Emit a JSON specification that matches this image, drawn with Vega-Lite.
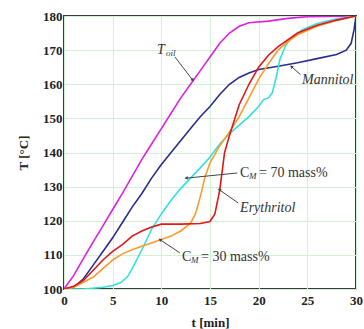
{
  "$schema": "https://vega.github.io/schema/vega-lite/v6.json",
  "width": 292,
  "height": 273,
  "autosize": {"type": "none"},
  "padding": {"left": 64, "top": 16, "right": 8, "bottom": 40},
  "background": "white",
  "config": {
    "view": {"stroke": "#3a3a3a", "strokeWidth": 2},
    "font": "Liberation Serif"
  },
  "datasets": {
    "curves": [
      {"s": "Toil", "t": 0, "T": 100}, {"s": "Toil", "t": 1, "T": 104}, {"s": "Toil", "t": 2, "T": 109}, {"s": "Toil", "t": 3, "T": 113.8}, {"s": "Toil", "t": 4, "T": 118.5}, {"s": "Toil", "t": 5, "T": 123.3}, {"s": "Toil", "t": 6, "T": 128}, {"s": "Toil", "t": 7, "T": 133}, {"s": "Toil", "t": 8, "T": 138}, {"s": "Toil", "t": 9, "T": 142.5}, {"s": "Toil", "t": 10, "T": 147}, {"s": "Toil", "t": 11, "T": 151.5}, {"s": "Toil", "t": 12, "T": 156}, {"s": "Toil", "t": 13, "T": 160}, {"s": "Toil", "t": 14, "T": 164}, {"s": "Toil", "t": 15, "T": 168}, {"s": "Toil", "t": 16, "T": 172}, {"s": "Toil", "t": 17, "T": 175}, {"s": "Toil", "t": 18, "T": 177}, {"s": "Toil", "t": 19, "T": 178}, {"s": "Toil", "t": 21, "T": 178.5}, {"s": "Toil", "t": 23, "T": 179.3}, {"s": "Toil", "t": 25, "T": 179.8}, {"s": "Toil", "t": 30, "T": 180},
      {"s": "Mannitol", "t": 0, "T": 100}, {"s": "Mannitol", "t": 1, "T": 100.5}, {"s": "Mannitol", "t": 2, "T": 103}, {"s": "Mannitol", "t": 3, "T": 107}, {"s": "Mannitol", "t": 4, "T": 111}, {"s": "Mannitol", "t": 5, "T": 115}, {"s": "Mannitol", "t": 6, "T": 119.5}, {"s": "Mannitol", "t": 7, "T": 124}, {"s": "Mannitol", "t": 8, "T": 128}, {"s": "Mannitol", "t": 9, "T": 132.5}, {"s": "Mannitol", "t": 10, "T": 136.5}, {"s": "Mannitol", "t": 11, "T": 140}, {"s": "Mannitol", "t": 12, "T": 143.5}, {"s": "Mannitol", "t": 13, "T": 147}, {"s": "Mannitol", "t": 14, "T": 150.5}, {"s": "Mannitol", "t": 15, "T": 153.5}, {"s": "Mannitol", "t": 16, "T": 157}, {"s": "Mannitol", "t": 17, "T": 160}, {"s": "Mannitol", "t": 18, "T": 162}, {"s": "Mannitol", "t": 19, "T": 163.3}, {"s": "Mannitol", "t": 20, "T": 164.3}, {"s": "Mannitol", "t": 22, "T": 165.3}, {"s": "Mannitol", "t": 24, "T": 166.3}, {"s": "Mannitol", "t": 26, "T": 167.5}, {"s": "Mannitol", "t": 28, "T": 168.7}, {"s": "Mannitol", "t": 29, "T": 170}, {"s": "Mannitol", "t": 29.5, "T": 172}, {"s": "Mannitol", "t": 29.8, "T": 176}, {"s": "Mannitol", "t": 30, "T": 180},
      {"s": "C70", "t": 0, "T": 100}, {"s": "C70", "t": 2, "T": 100}, {"s": "C70", "t": 4, "T": 100.5}, {"s": "C70", "t": 5, "T": 101}, {"s": "C70", "t": 5.8, "T": 101.8}, {"s": "C70", "t": 6.5, "T": 103.5}, {"s": "C70", "t": 7, "T": 106}, {"s": "C70", "t": 8, "T": 111.5}, {"s": "C70", "t": 9, "T": 117.5}, {"s": "C70", "t": 10, "T": 122}, {"s": "C70", "t": 11, "T": 126}, {"s": "C70", "t": 12, "T": 129.5}, {"s": "C70", "t": 13, "T": 132.5}, {"s": "C70", "t": 14, "T": 135.5}, {"s": "C70", "t": 15, "T": 138.7}, {"s": "C70", "t": 16, "T": 142.5}, {"s": "C70", "t": 17, "T": 145.5}, {"s": "C70", "t": 18, "T": 148}, {"s": "C70", "t": 19, "T": 150.5}, {"s": "C70", "t": 20, "T": 153.5}, {"s": "C70", "t": 20.5, "T": 155.5}, {"s": "C70", "t": 21, "T": 156}, {"s": "C70", "t": 21.4, "T": 157.5}, {"s": "C70", "t": 21.8, "T": 162}, {"s": "C70", "t": 22.2, "T": 167.5}, {"s": "C70", "t": 22.8, "T": 171.5}, {"s": "C70", "t": 23.5, "T": 174}, {"s": "C70", "t": 24.5, "T": 176}, {"s": "C70", "t": 26, "T": 177.8}, {"s": "C70", "t": 28, "T": 179.2}, {"s": "C70", "t": 30, "T": 180},
      {"s": "C30", "t": 0, "T": 100}, {"s": "C30", "t": 1, "T": 100.5}, {"s": "C30", "t": 2, "T": 102}, {"s": "C30", "t": 3, "T": 103.5}, {"s": "C30", "t": 4, "T": 106}, {"s": "C30", "t": 5, "T": 108.5}, {"s": "C30", "t": 6, "T": 110.3}, {"s": "C30", "t": 7, "T": 111.5}, {"s": "C30", "t": 8, "T": 112.5}, {"s": "C30", "t": 9, "T": 113.5}, {"s": "C30", "t": 10, "T": 114.5}, {"s": "C30", "t": 11, "T": 115.5}, {"s": "C30", "t": 12, "T": 117}, {"s": "C30", "t": 13, "T": 119.3}, {"s": "C30", "t": 13.5, "T": 122}, {"s": "C30", "t": 14, "T": 127}, {"s": "C30", "t": 14.5, "T": 133}, {"s": "C30", "t": 15, "T": 137}, {"s": "C30", "t": 16, "T": 142}, {"s": "C30", "t": 17, "T": 146}, {"s": "C30", "t": 18, "T": 150.5}, {"s": "C30", "t": 19, "T": 156}, {"s": "C30", "t": 20, "T": 161.5}, {"s": "C30", "t": 21, "T": 166}, {"s": "C30", "t": 22, "T": 170}, {"s": "C30", "t": 23, "T": 172.5}, {"s": "C30", "t": 24, "T": 174.5}, {"s": "C30", "t": 26, "T": 177}, {"s": "C30", "t": 28, "T": 178.7}, {"s": "C30", "t": 30, "T": 180},
      {"s": "Erythritol", "t": 0, "T": 100}, {"s": "Erythritol", "t": 1, "T": 100.8}, {"s": "Erythritol", "t": 2, "T": 102.5}, {"s": "Erythritol", "t": 3, "T": 105.5}, {"s": "Erythritol", "t": 4, "T": 108.5}, {"s": "Erythritol", "t": 5, "T": 111}, {"s": "Erythritol", "t": 6, "T": 113}, {"s": "Erythritol", "t": 7, "T": 115.5}, {"s": "Erythritol", "t": 8, "T": 117}, {"s": "Erythritol", "t": 9, "T": 118.2}, {"s": "Erythritol", "t": 10, "T": 119}, {"s": "Erythritol", "t": 12, "T": 119}, {"s": "Erythritol", "t": 14, "T": 119.2}, {"s": "Erythritol", "t": 15, "T": 119.8}, {"s": "Erythritol", "t": 15.5, "T": 122}, {"s": "Erythritol", "t": 16, "T": 129}, {"s": "Erythritol", "t": 16.5, "T": 140}, {"s": "Erythritol", "t": 17, "T": 145}, {"s": "Erythritol", "t": 18, "T": 154}, {"s": "Erythritol", "t": 19, "T": 160}, {"s": "Erythritol", "t": 20, "T": 165}, {"s": "Erythritol", "t": 21, "T": 168.5}, {"s": "Erythritol", "t": 22, "T": 171}, {"s": "Erythritol", "t": 24, "T": 175}, {"s": "Erythritol", "t": 26, "T": 177.3}, {"s": "Erythritol", "t": 28, "T": 178.8}, {"s": "Erythritol", "t": 30, "T": 180}
    ],
    "arrows": [
      {"id": "toil", "t": 11.4, "T": 168.0, "t2": 13.2, "T2": 161.3},
      {"id": "mannitol", "t": 24.3, "T": 162.8, "t2": 23.4, "T2": 165.1},
      {"id": "c70", "t": 17.8, "T": 134.0, "t2": 12.6, "T2": 132.5},
      {"id": "ery", "t": 17.9, "T": 125.2, "t2": 16.0, "T2": 129.0},
      {"id": "c30", "t": 11.9, "T": 110.6, "t2": 9.9, "T2": 114.4}
    ],
    "tips": [
      {"id": "toil", "t": 13.2, "T": 161.3},
      {"id": "mannitol", "t": 23.4, "T": 165.1},
      {"id": "c70", "t": 12.6, "T": 132.5},
      {"id": "ery", "t": 16.0, "T": 129.0},
      {"id": "c30", "t": 9.9, "T": 114.4}
    ],
    "italicLabels": [
      {"label": "T", "t": 9.56, "T": 170.1},
      {"label": "Mannitol", "t": 24.46, "T": 161.3},
      {"label": "Erythritol", "t": 18.09, "T": 123.75}
    ],
    "subOil": [
      {"label": "oil", "t": 9.56, "T": 170.1}
    ],
    "cLabels": [
      {"c": "C", "sub": "M", "rest": "= 70 mass%", "t": 18.09, "T": 134.0},
      {"c": "C", "sub": "M", "rest": "= 30 mass%", "t": 12.13, "T": 109.4}
    ]
  },
  "encoding": {
    "x": {
      "field": "t", "type": "quantitative",
      "scale": {"domain": [0, 30], "nice": false, "zero": false},
      "axis": {
        "values": [0, 5, 10, 15, 20, 25, 30],
        "grid": true, "gridColor": "#d2f0d2", "gridWidth": 1,
        "ticks": false, "domain": false, "labelOverlap": false,
        "labelFont": "Liberation Serif", "labelFontWeight": "bold", "labelFontSize": 13, "labelColor": "#222",
        "labelPadding": 5, "labelFlush": false,
        "title": "t [min]", "titleFont": "Liberation Serif", "titleFontWeight": "bold", "titleFontSize": 13, "titleColor": "#222",
        "titleY": 33, "titleX": 146, "titleBaseline": "middle", "titleAlign": "center"
      }
    },
    "y": {
      "field": "T", "type": "quantitative",
      "scale": {"domain": [100, 180], "nice": false, "zero": false},
      "axis": {
        "values": [100, 110, 120, 130, 140, 150, 160, 170, 180],
        "grid": true, "gridColor": "#d2f0d2", "gridWidth": 1,
        "ticks": false, "domain": false, "labelOverlap": false,
        "labelFont": "Liberation Serif", "labelFontWeight": "bold", "labelFontSize": 13, "labelColor": "#222",
        "labelPadding": 2, "labelFlush": false,
        "title": "T [°C]", "titleFont": "Liberation Serif", "titleFontWeight": "bold", "titleFontSize": 13, "titleColor": "#222",
        "titleAngle": -90, "titleX": -41, "titleY": 136.5, "titleBaseline": "middle", "titleAlign": "center"
      }
    }
  },
  "layer": [
    {
      "data": {"name": "curves"},
      "mark": {"type": "line", "strokeWidth": 1.6, "clip": true},
      "encoding": {
        "color": {
          "field": "s", "type": "nominal",
          "scale": {"domain": ["Toil", "Mannitol", "C70", "C30", "Erythritol"], "range": ["#e020e0", "#2c2c8c", "#33e0e0", "#ff9a2a", "#e01818"]},
          "legend": null
        },
        "order": {"field": "t", "type": "quantitative"}
      }
    },
    {
      "data": {"name": "arrows"},
      "mark": {"type": "rule", "color": "#444444", "strokeWidth": 1},
      "encoding": {
        "x2": {"field": "t2"},
        "y2": {"field": "T2"}
      }
    },
    {
      "data": {"name": "tips"},
      "transform": [{"filter": "datum.id === 'toil'"}],
      "mark": {"type": "point", "shape": "triangle", "filled": true, "size": 14, "angle": 143, "color": "#444444", "opacity": 1},
      "encoding": {}
    },
    {
      "data": {"name": "tips"},
      "transform": [{"filter": "datum.id === 'mannitol'"}],
      "mark": {"type": "point", "shape": "triangle", "filled": true, "size": 14, "angle": 312, "color": "#444444", "opacity": 1},
      "encoding": {}
    },
    {
      "data": {"name": "tips"},
      "transform": [{"filter": "datum.id === 'c70'"}],
      "mark": {"type": "point", "shape": "triangle", "filled": true, "size": 14, "angle": 264, "color": "#444444", "opacity": 1},
      "encoding": {}
    },
    {
      "data": {"name": "tips"},
      "transform": [{"filter": "datum.id === 'ery'"}],
      "mark": {"type": "point", "shape": "triangle", "filled": true, "size": 14, "angle": 305, "color": "#444444", "opacity": 1},
      "encoding": {}
    },
    {
      "data": {"name": "tips"},
      "transform": [{"filter": "datum.id === 'c30'"}],
      "mark": {"type": "point", "shape": "triangle", "filled": true, "size": 14, "angle": 304, "color": "#444444", "opacity": 1},
      "encoding": {}
    },
    {
      "data": {"name": "italicLabels"},
      "mark": {"type": "text", "font": "Liberation Serif", "fontStyle": "italic", "fontSize": 14, "align": "left", "baseline": "middle", "color": "#333333"},
      "encoding": {"text": {"field": "label"}}
    },
    {
      "data": {"name": "subOil"},
      "mark": {"type": "text", "font": "Liberation Serif", "fontStyle": "italic", "fontSize": 9, "align": "left", "baseline": "middle", "dx": 9, "dy": 3, "color": "#333333"},
      "encoding": {"text": {"field": "label"}}
    },
    {
      "data": {"name": "cLabels"},
      "mark": {"type": "text", "font": "Liberation Serif", "fontSize": 14, "align": "left", "baseline": "middle", "color": "#333333"},
      "encoding": {"text": {"field": "c"}}
    },
    {
      "data": {"name": "cLabels"},
      "mark": {"type": "text", "font": "Liberation Serif", "fontStyle": "italic", "fontSize": 9, "align": "left", "baseline": "middle", "dx": 9, "dy": 3, "color": "#333333"},
      "encoding": {"text": {"field": "sub"}}
    },
    {
      "data": {"name": "cLabels"},
      "mark": {"type": "text", "font": "Liberation Serif", "fontSize": 14, "align": "left", "baseline": "middle", "dx": 19, "color": "#333333"},
      "encoding": {"text": {"field": "rest"}}
    }
  ]
}
